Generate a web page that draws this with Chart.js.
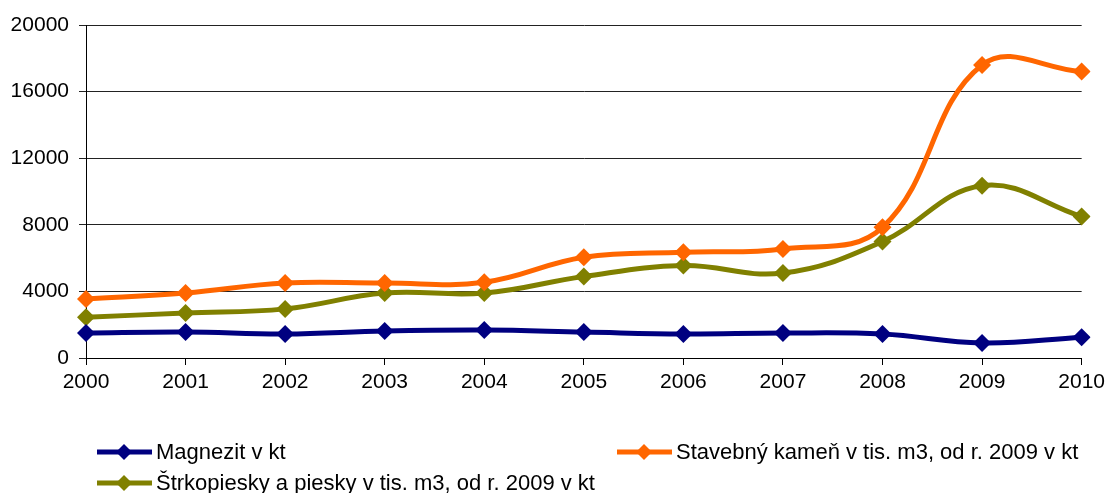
<!DOCTYPE html>
<html>
<head>
<meta charset="utf-8">
<script src="https://cdn.jsdelivr.net/npm/chart.js@4/dist/chart.umd.min.js"></script>
<style>
  html, body { margin: 0; padding: 0; background: #fff; }
  #wrap { width: 1110px; height: 493px; }
</style>
</head>
<body>
<div id="wrap"><canvas id="c" width="1110" height="493"></canvas></div>
<script>
// Years on the horizontal axis
const years = ['2000', '2001', '2002', '2003', '2004', '2005', '2006', '2007', '2008', '2009', '2010'];

// Production series
const magnezit = [1500, 1560, 1440, 1620, 1680, 1560, 1440, 1500, 1440, 900, 1250];
const stavebnyKamen = [3550, 3900, 4500, 4500, 4550, 6050, 6350, 6550, 7850, 17600, 17200];
const strkopiesky = [2450, 2700, 2950, 3900, 3900, 4900, 5550, 5100, 7000, 10350, 8500];

// Series names
const seriesNames = [
  'Magnezit v kt',
  'Stavebný kameň v tis. m3, od r. 2009 v kt',
  'Štrkopiesky a piesky v tis. m3, od r. 2009 v kt'
];

// Y axis range and step
const yMin = 0, yMax = 20000, yStep = 4000;

const colors = ['#000080', '#FF6600', '#808000'];
const FONT = "'Liberation Sans', Arial, sans-serif";

function series(label, data, color) {
  return {
    label, data,
    borderColor: color,
    backgroundColor: color,
    borderWidth: 5,
    pointStyle: 'rectRot',
    pointRadius: 9,
    pointHoverRadius: 9,
    pointBorderWidth: 0,
    tension: 0.4,
    fill: false
  };
}

// Two-column legend beneath the plot
const bottomLegend = {
  id: 'bottomLegend',
  afterDraw(chart) {
    const ctx = chart.ctx;
    const items = [
      { x: 97, y: 452, i: 0 },
      { x: 617, y: 452, i: 1 },
      { x: 97, y: 483, i: 2 }
    ];
    ctx.save();
    ctx.font = '22px ' + FONT;
    ctx.textBaseline = 'middle';
    ctx.textAlign = 'left';
    items.forEach(it => {
      const c = colors[it.i];
      ctx.strokeStyle = c;
      ctx.lineWidth = 5;
      ctx.beginPath();
      ctx.moveTo(it.x, it.y);
      ctx.lineTo(it.x + 55, it.y);
      ctx.stroke();
      const cx = it.x + 27, r = 8;
      ctx.fillStyle = c;
      ctx.beginPath();
      ctx.moveTo(cx, it.y - r);
      ctx.lineTo(cx + r, it.y);
      ctx.lineTo(cx, it.y + r);
      ctx.lineTo(cx - r, it.y);
      ctx.closePath();
      ctx.fill();
      ctx.fillStyle = '#000';
      ctx.fillText(seriesNames[it.i], it.x + 59, it.y + 1);
    });
    ctx.restore();
  }
};

new Chart(document.getElementById('c'), {
  type: 'line',
  data: {
    labels: years,
    datasets: [
      series(seriesNames[0], magnezit, colors[0]),
      series(seriesNames[1], stavebnyKamen, colors[1]),
      series(seriesNames[2], strkopiesky, colors[2])
    ]
  },
  options: {
    responsive: false,
    animation: false,
    events: [],
    layout: { padding: { left: 0, right: 24, top: 25, bottom: 0 } },
    plugins: { legend: { display: false }, tooltip: { enabled: false } },
    scales: {
      x: {
        offset: false,
        grid: { drawOnChartArea: false, drawTicks: true, tickLength: 7, color: '#000' },
        border: { display: true, color: '#000', width: 1 },
        ticks: { color: '#000', font: { family: FONT, size: 21 }, padding: 5, maxRotation: 0 },
        afterFit(scale) { scale.height = 135; }
      },
      y: {
        min: yMin, max: yMax,
        grid: { color: '#222', lineWidth: 1, drawTicks: true, tickLength: 7 },
        border: { display: true, color: '#000', width: 1 },
        ticks: {
          stepSize: yStep, color: '#000', font: { family: FONT, size: 21 }, padding: 10,
          callback: v => String(v)
        },
        afterFit(scale) { scale.width = 86; }
      }
    }
  },
  plugins: [bottomLegend]
});
</script>
</body>
</html>
